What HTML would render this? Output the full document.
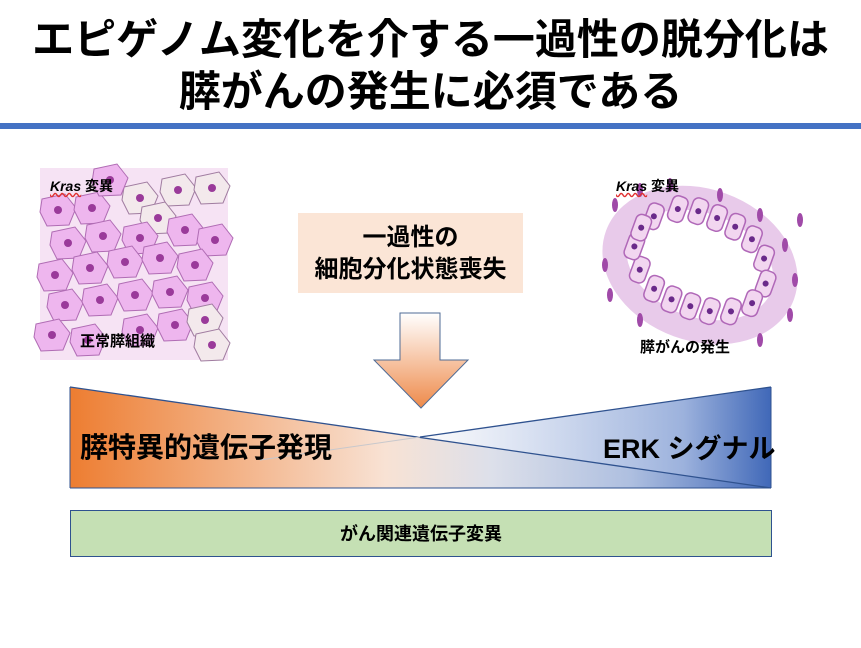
<!DOCTYPE html>
<html><head><meta charset="utf-8"><style>
body{margin:0;width:861px;height:648px;background:#fff;overflow:hidden;position:relative;font-family:"Liberation Sans","Noto Sans CJK JP",sans-serif;}
.t{position:absolute;left:0;width:861px;text-align:center;font-weight:bold;font-size:42px;color:#000;letter-spacing:0px;line-height:1;}
</style></head><body>
<div class="t" style="top:19px">エピゲノム変化を介する一過性の脱分化は</div>
<div class="t" style="top:71px">膵がんの発生に必須である</div>
<div style="position:absolute;left:0;top:123px;width:861px;height:6px;background:#4472c4"></div>
<svg width="861" height="648" style="position:absolute;left:0;top:0" xmlns="http://www.w3.org/2000/svg">
<defs>
<linearGradient id="g1" x1="0" x2="1" y1="0" y2="0">
<stop offset="0" stop-color="#ed7d31"/><stop offset="0.45" stop-color="#f8e2d4"/><stop offset="0.6" stop-color="#dde0ea"/><stop offset="0.8" stop-color="#aebfe0"/><stop offset="1" stop-color="#4068b8"/></linearGradient>
<linearGradient id="g2" x1="0" x2="1" y1="0" y2="0">
<stop offset="0" stop-color="#fff"/><stop offset="0.3" stop-color="#dbe3f3"/><stop offset="0.75" stop-color="#9fb4de"/><stop offset="1" stop-color="#4068b8"/></linearGradient>
<linearGradient id="ga" x1="0" x2="0" y1="0" y2="1">
<stop offset="0" stop-color="#fff"/><stop offset="1" stop-color="#ee8a4a"/></linearGradient>
<g id="cell"><polygon points="-16,-11 7,-16 18,-2 11,15 -11,16 -18,2" fill="#eeb6ee" stroke="#b06cb4" stroke-width="1"/><circle r="4" fill="#9a3a9a"/></g>
<g id="cellw"><polygon points="-16,-11 7,-16 18,-2 11,15 -11,16 -18,2" fill="#f3e9ec" stroke="#a07ca0" stroke-width="1"/><circle r="4" fill="#9a3a9a"/></g>
<g id="ep"><rect x="-8" y="-13" width="16" height="26" rx="6" fill="#f2d6f0" stroke="#b068b8" stroke-width="1.5"/><circle r="3" fill="#6a2a8a"/></g>
<g id="fb"><ellipse rx="3" ry="7" fill="#a04aa8"/></g>
</defs>
<rect x="40" y="168" width="188" height="192" fill="#f6e3f4"/>
<g>
<use href="#cell" x="58" y="210"/><use href="#cell" x="92" y="208"/><use href="#cellw" x="140" y="198"/><use href="#cellw" x="178" y="190"/><use href="#cellw" x="212" y="188"/>
<use href="#cell" x="110" y="180"/><use href="#cellw" x="158" y="218"/><use href="#cell" x="68" y="243"/><use href="#cell" x="103" y="236"/><use href="#cell" x="140" y="238"/><use href="#cell" x="185" y="230"/><use href="#cell" x="215" y="240"/>
<use href="#cell" x="55" y="275"/><use href="#cell" x="90" y="268"/><use href="#cell" x="125" y="262"/><use href="#cell" x="160" y="258"/><use href="#cell" x="195" y="265"/>
<use href="#cell" x="65" y="305"/><use href="#cell" x="100" y="300"/><use href="#cell" x="135" y="295"/><use href="#cell" x="170" y="292"/><use href="#cell" x="205" y="298"/>
<use href="#cell" x="52" y="335"/><use href="#cell" x="88" y="340"/><use href="#cell" x="140" y="330"/><use href="#cell" x="175" y="325"/>
<use href="#cellw" x="205" y="320"/><use href="#cellw" x="212" y="345"/>
</g>
<g transform="translate(700,265)">
<ellipse rx="88" ry="64" fill="none" stroke="#d9a6dc" stroke-width="24" opacity="0.6" transform="rotate(20)"/>
<g transform="rotate(20)">
<use href="#ep" x="-60" y="-30"/><use href="#ep" x="-40" y="-45"/><use href="#ep" x="-20" y="-50"/><use href="#ep" x="0" y="-50"/><use href="#ep" x="20" y="-48"/><use href="#ep" x="40" y="-42"/><use href="#ep" x="58" y="-28"/>
<use href="#ep" x="68" y="-5"/><use href="#ep" x="62" y="18"/><use href="#ep" x="45" y="33"/><use href="#ep" x="25" y="40"/><use href="#ep" x="5" y="42"/><use href="#ep" x="-15" y="42"/><use href="#ep" x="-35" y="38"/><use href="#ep" x="-55" y="25"/><use href="#ep" x="-68" y="5"/><use href="#ep" x="-68" y="-15"/>
</g>
<use href="#fb" x="-85" y="-60"/><use href="#fb" x="-60" y="-75"/><use href="#fb" x="-30" y="-80"/><use href="#fb" x="20" y="-70"/><use href="#fb" x="60" y="-50"/><use href="#fb" x="85" y="-20"/><use href="#fb" x="95" y="15"/><use href="#fb" x="90" y="50"/><use href="#fb" x="60" y="75"/><use href="#fb" x="-95" y="0"/><use href="#fb" x="-90" y="30"/><use href="#fb" x="-60" y="55"/><use href="#fb" x="100" y="-45"/>
</g>
<rect x="298" y="213" width="225" height="80" fill="#fbe5d6"/>
<polygon points="400,313 440,313 440,360 468,360 421,408 374,360 400,360" fill="url(#ga)" stroke="#4f6b95" stroke-width="1"/>
<polygon points="70,387 420,437 771,387 771,488 70,488" fill="url(#g1)"/>
<polygon points="420,437 771,387 771,488" fill="url(#g2)" opacity="0.9"/>
<line x1="70" y1="387" x2="771" y2="488" stroke="#2f528f" stroke-width="1.3"/>
<line x1="771" y1="387" x2="420" y2="437" stroke="#2f528f" stroke-width="1.3"/>
<line x1="420" y1="437" x2="260" y2="460" stroke="#c8c8cc" stroke-width="1"/>
<line x1="70" y1="387" x2="70" y2="488" stroke="#2f528f" stroke-width="1"/>
<line x1="771" y1="387" x2="771" y2="488" stroke="#2f528f" stroke-width="1"/>
<line x1="70" y1="488" x2="771" y2="488" stroke="#2f528f" stroke-width="1"/>
<rect x="70.5" y="510.5" width="701" height="46" fill="#c5e0b4" stroke="#2f528f" stroke-width="1"/>
</svg>
<div style="position:absolute;left:50px;top:176px;font-weight:bold;font-size:14px"><i style="text-decoration:underline wavy #e03030">Kras</i> 変異</div>
<div style="position:absolute;left:80px;top:330px;font-weight:bold;font-size:15px">正常膵組織</div>
<div style="position:absolute;left:616px;top:176px;font-weight:bold;font-size:14px"><i style="text-decoration:underline wavy #e03030">Kras</i> 変異</div>
<div style="position:absolute;left:640px;top:336px;font-weight:bold;font-size:15px">膵がんの発生</div>
<div style="position:absolute;left:298px;top:222px;width:225px;text-align:center;font-weight:bold;font-size:24px;line-height:32px">一過性の<br>細胞分化状態喪失</div>
<div style="position:absolute;left:80px;top:426px;font-weight:bold;font-size:28px">膵特異的遺伝子発現</div>
<div style="position:absolute;left:603px;top:427px;font-weight:bold;font-size:27px">ERK シグナル</div>
<div style="position:absolute;left:70px;top:520px;width:702px;text-align:center;font-weight:bold;font-size:18px">がん関連遺伝子変異</div>
</body></html>
